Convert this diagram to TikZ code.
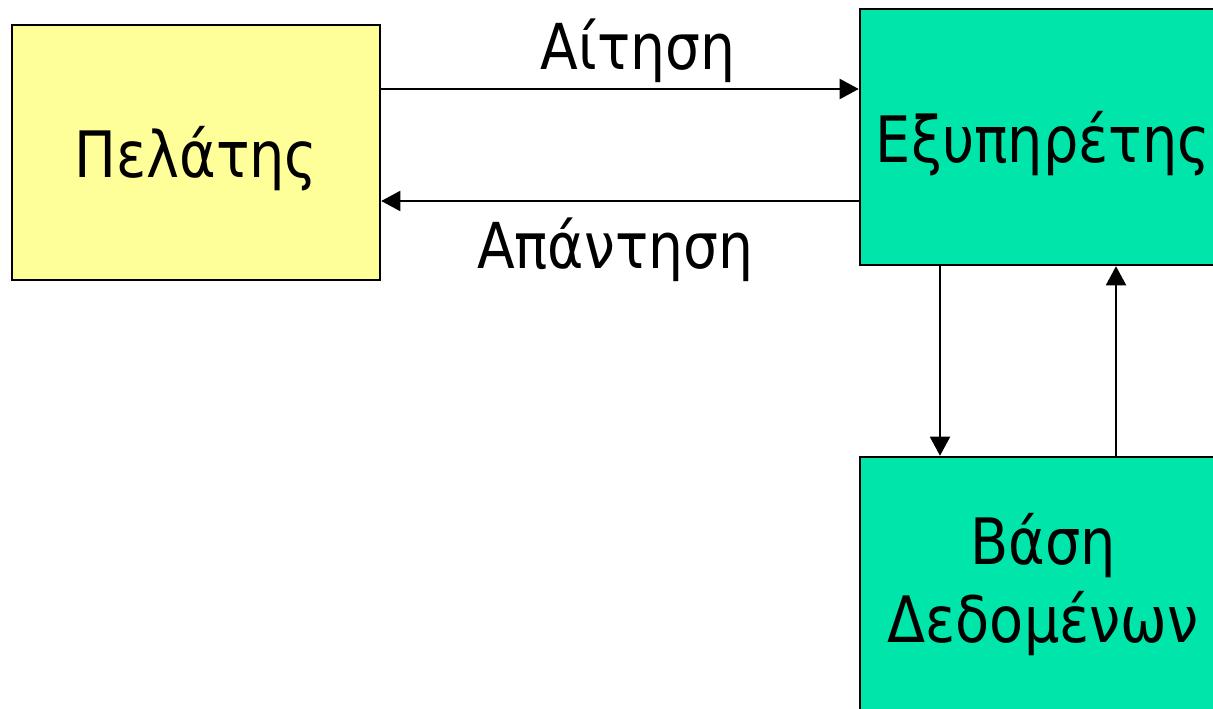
\documentclass[tikz,border=0pt]{standalone}
\usepackage{fontspec}
\setmainfont{DejaVu Sans}[FakeStretch=0.87]
\usetikzlibrary{arrows.meta}
\definecolor{clientyellow}{RGB}{255,255,153}
\definecolor{servergreen}{RGB}{0,229,170}
\begin{document}
\begin{tikzpicture}[x=0.75pt,y=-0.75pt,
  box/.style={draw=black, line width=1.9pt, rectangle, inner sep=0pt,
    font=\fontsize{48}{58.5}\selectfont, align=center},
  oneline/.style={text height=38.25pt, text depth=0pt},
  arr/.style={line width=1.5pt, -{Triangle[length=14.25pt,width=15pt]}},
  lbl/.style={font=\fontsize{47.5}{58.5}\selectfont, anchor=base, inner sep=0pt}]
\useasboundingbox (0,0) rectangle (1213,709);
\clip (0,0) rectangle (1213,709);
\node[box, oneline, fill=clientyellow, minimum width=276pt, minimum height=191.25pt] (client) at (196,152.5) {Πελάτης};
\node[box, oneline, fill=servergreen, minimum width=274.5pt, minimum height=192pt] (server) at (1043,137) {Εξυπηρέτης};
\node[box, fill=servergreen, minimum width=274.5pt, minimum height=192pt] (db) at (1043,585) {Βάση\\Δεδομένων};
\coordinate (req) at (0,89);
\coordinate (resp) at (0,201);
\coordinate (down) at (940,0);
\coordinate (up) at (1116,0);
\draw[arr] (client.east |- req) -- (server.west |- req);
\draw[arr] (server.west |- resp) -- (client.east |- resp);
\draw[arr] (server.south -| down) -- (db.north -| down);
\draw[arr] (db.north -| up) -- (server.south -| up);
\node[lbl] (reqlbl) at (638,70) {Αίτηση};
\node[lbl] (resplbl) at (615,268) {Απάντηση};
\end{tikzpicture}
\end{document}
